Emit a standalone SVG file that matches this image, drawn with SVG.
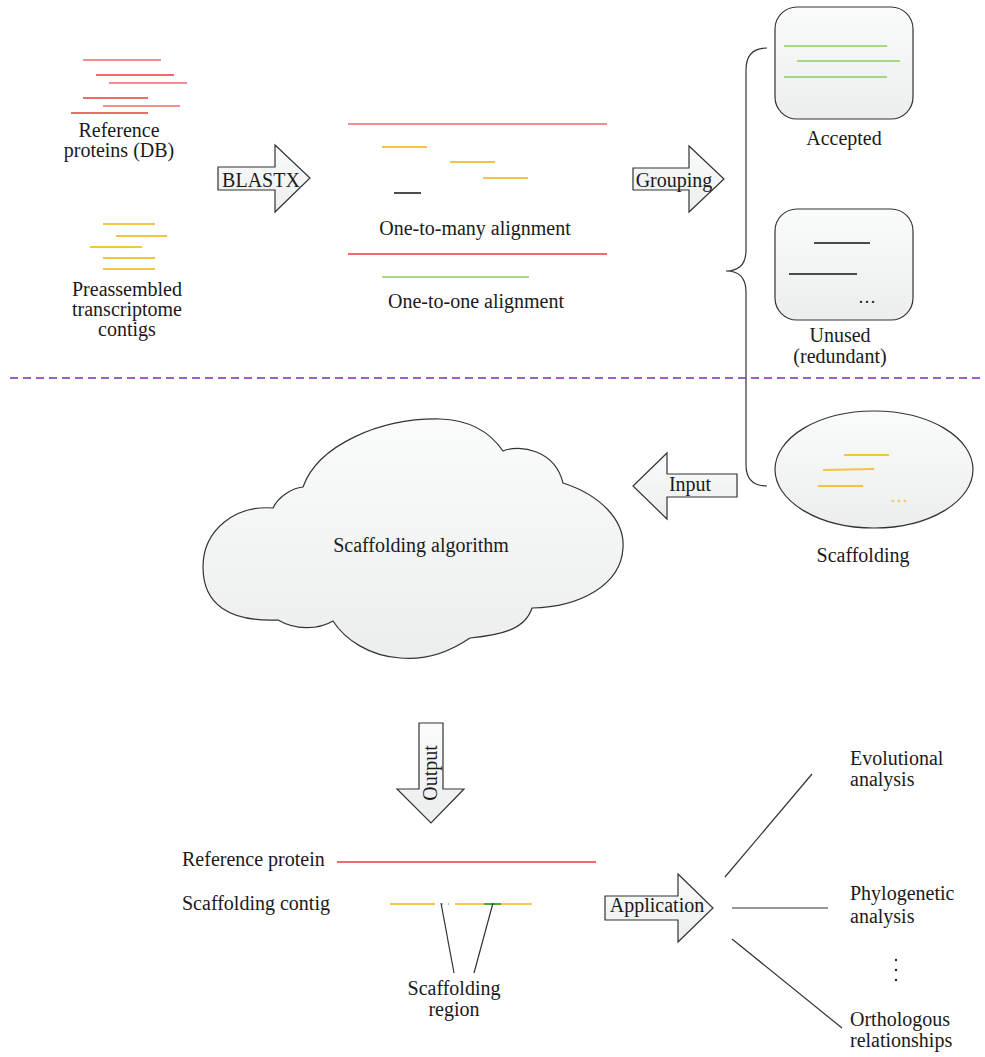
<svg xmlns="http://www.w3.org/2000/svg" width="985" height="1057" viewBox="0 0 985 1057" font-family="'Liberation Serif', 'DejaVu Serif', serif">
<defs>
<linearGradient id="gf" x1="0" y1="0" x2="0" y2="1">
<stop offset="0" stop-color="#fafbfb"/>
<stop offset="1" stop-color="#eceeee"/>
</linearGradient>
<style>
text{font-family:'Liberation Serif','DejaVu Serif',serif;font-size:20px;fill:#1a1a1a}
.c{text-anchor:middle}
.sh{fill:url(#gf);stroke:#333;stroke-width:1.2}
.r1{stroke:#f06a6a;stroke-width:1.5}
.r2{stroke:#e8383a;stroke-width:1.5}
.y{stroke:#f5c342;stroke-width:1.8}
.g{stroke:#8dcc5c;stroke-width:1.5}
.k{stroke:#111;stroke-width:1.5}
.ln{stroke:#333;stroke-width:1.2;fill:none}
</style>
</defs>
<rect width="985" height="1057" fill="#fff"/>

<g id="ref-proteins">
<line class="r1" x1="83" y1="60" x2="161" y2="60"/>
<line class="r2" x1="96" y1="75" x2="174" y2="75"/>
<line class="r1" x1="109" y1="83" x2="187" y2="83"/>
<line class="r2" x1="83" y1="98" x2="148" y2="98"/>
<line class="r1" x1="103" y1="106" x2="180" y2="106"/>
<line class="r2" x1="71" y1="113" x2="148" y2="113"/>
<text class="c" x="119" y="137">Reference</text>
<text class="c" x="119" y="157">proteins (DB)</text>
</g>

<g id="contigs">
<line class="y" x1="103" y1="224" x2="155" y2="224"/>
<line class="y" x1="116" y1="236" x2="167" y2="236"/>
<line class="y" x1="90" y1="247" x2="142" y2="247"/>
<line class="y" x1="103" y1="258" x2="155" y2="258"/>
<line class="y" x1="103" y1="269" x2="155" y2="269"/>
<text class="c" x="127" y="296">Preassembled</text>
<text class="c" x="127" y="316">transcriptome</text>
<text class="c" x="127" y="336">contigs</text>
</g>

<g id="blastx">
<path class="sh" d="M218,167 L275,167 L275,145 L310,178 L275,212 L275,190 L218,190 Z"/>
<text class="c" x="261" y="187">BLASTX</text>
</g>

<g id="one-to-many">
<line class="r1" x1="348" y1="124" x2="607" y2="124"/>
<line class="y" x1="382" y1="147" x2="427" y2="147"/>
<line class="y" x1="450" y1="162" x2="495" y2="162"/>
<line class="y" x1="483" y1="178" x2="528" y2="178"/>
<line class="k" x1="394" y1="193" x2="421" y2="193"/>
<text class="c" x="475" y="235">One-to-many alignment</text>
</g>

<g id="one-to-one">
<line class="r2" x1="348" y1="254" x2="607" y2="254"/>
<line class="g" x1="382" y1="277" x2="529" y2="277"/>
<text class="c" x="476" y="308">One-to-one alignment</text>
</g>

<g id="grouping">
<path class="sh" d="M633,168 L689,168 L689,146 L724,179 L689,212 L689,190 L633,190 Z"/>
<text class="c" x="674" y="187">Grouping</text>
</g>

<g id="accepted">
<rect class="sh" x="775" y="7" width="138" height="112" rx="22"/>
<line class="g" x1="784" y1="46" x2="887" y2="46"/>
<line class="g" x1="797" y1="61" x2="900" y2="61"/>
<line class="g" x1="784" y1="77" x2="887" y2="77"/>
<text class="c" x="844" y="145">Accepted</text>
</g>

<g id="unused">
<rect class="sh" x="775" y="209" width="138" height="111" rx="22"/>
<line class="k" x1="814" y1="243" x2="870" y2="243"/>
<line class="k" x1="789" y1="274" x2="857" y2="274"/>
<text class="c" x="867" y="303" style="font-size:18px">…</text>
<text class="c" x="840" y="342">Unused</text>
<text class="c" x="840" y="363">(redundant)</text>
</g>

<g id="scaffolding-set">
<ellipse class="sh" cx="874" cy="469.5" rx="99" ry="58.5"/>
<line class="y" x1="844" y1="455" x2="889" y2="455"/>
<line class="y" x1="823" y1="470" x2="874" y2="469"/>
<line class="y" x1="818" y1="486" x2="863" y2="486"/>
<text class="c" x="899" y="502" style="font-size:18px;fill:#f5c342">…</text>
<text class="c" x="863" y="562">Scaffolding</text>
</g>

<g id="input">
<path class="sh" d="M737,474 L667,474 L667,453 L633,486 L667,519 L667,497 L737,497 Z"/>
<text class="c" x="690" y="491">Input</text>
</g>

<g id="cloud">
<path class="sh" d="M273,508 C278,497 292,488 303,487 C318,445 380,418 440,419 C470,420 490,432 503,451 C520,444 555,450 563,483 C600,495 625,520 623,548 C621,585 580,607 532,608 C525,630 500,635 470,638 C445,655 420,660 400,658 C370,656 345,640 333,621 C318,630 295,630 278,620 C230,622 203,605 203,567 C203,530 235,505 273,508 Z"/>
<text class="c" x="421" y="552">Scaffolding algorithm</text>
</g>

<g id="output">
<path class="sh" d="M419,723 L443,723 L443,789 L464,789 L431,823 L397,789 L419,789 Z"/>
<text class="c" transform="translate(437,773) rotate(-90)">Output</text>
</g>

<g id="result">
<text x="182" y="866">Reference protein</text>
<line class="r2" x1="337" y1="862" x2="596" y2="862"/>
<text x="182" y="910">Scaffolding contig</text>
<line class="y" x1="390" y1="904" x2="435" y2="904"/>
<line stroke="#999" stroke-width="1.5" x1="442" y1="904" x2="443" y2="904"/>
<line stroke="#999" stroke-width="1.5" x1="448" y1="904" x2="449" y2="904"/>
<line class="y" x1="455" y1="904" x2="484" y2="904"/>
<line stroke="#4aa83a" stroke-width="2" x1="484" y1="904" x2="501" y2="904"/>
<line class="y" x1="501" y1="904" x2="532" y2="904"/>
<text class="c" x="454" y="995">Scaffolding</text>
<text class="c" x="454" y="1016">region</text>
</g>

<g id="application">
<path class="sh" d="M605,896 L678,896 L678,874 L713,908 L678,942 L678,920 L605,920 Z"/>
<text class="c" x="657" y="912">Application</text>
</g>

<g id="apps">
<text x="850" y="765">Evolutional</text>
<text x="850" y="786">analysis</text>
<text x="850" y="900">Phylogenetic</text>
<text x="850" y="923">analysis</text>
<circle cx="896" cy="960" r="1.2" fill="#222"/>
<circle cx="896" cy="970" r="1.2" fill="#222"/>
<circle cx="896" cy="980" r="1.2" fill="#222"/>
<text x="850" y="1026">Orthologous</text>
<text x="850" y="1047">relationships</text>
</g>

<g id="connectors">
<path class="ln" d="M767,48 Q746,48 746,70 L746,250 Q746,271 726,271 Q746,271 746,292 L746,465 Q746,486 767,486"/>
<line x1="10" y1="378" x2="980" y2="378" stroke="#7a2cc0" stroke-width="1.5" stroke-dasharray="8,5"/>
<line class="ln" x1="441" y1="903" x2="454" y2="973"/>
<line class="ln" x1="493" y1="903" x2="474" y2="973"/>
<line class="ln" x1="725" y1="877" x2="812" y2="774"/>
<line class="ln" x1="732" y1="908" x2="828" y2="908"/>
<line class="ln" x1="732" y1="939" x2="842" y2="1028"/>
</g>
</svg>
